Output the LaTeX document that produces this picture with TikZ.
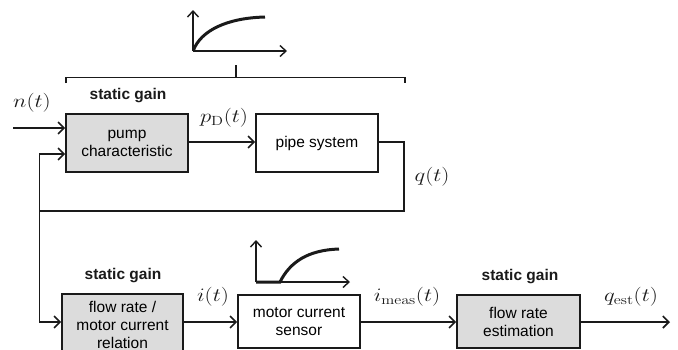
\documentclass[tikz,border=0pt]{standalone}
\usepackage{fix-cm}
\usepackage[no-math]{fontspec}
\setmainfont{Liberation Sans}
\usepackage{graphicx}
\usetikzlibrary{arrows.meta}
\definecolor{ink}{RGB}{26,26,26}
\definecolor{boxgray}{RGB}{220,220,220}
\newcommand\mth[1]{\scalebox{1.2}[1]{\fontsize{19}{22}\selectfont$#1$}}
\tikzset{
  blk/.style={draw=ink, line width=1.6pt, minimum width=122pt, minimum height=53pt, inner sep=0pt, align=center},
  grayblk/.style={blk, fill=boxgray},
  conn/.style={draw=ink, line width=1.6pt, -{Straight Barb[length=6pt,width=12pt,line width=1.6pt]}},
  wire/.style={draw=ink, line width=1.6pt},
  lbl/.style={inner sep=0pt, text=ink},
  gainlbl/.style={inner sep=0pt, text=ink, font=\fontsize{15.5}{18}\selectfont\bfseries},
  axis/.style={draw=ink, line width=1.4pt, -{Straight Barb[length=6pt,width=11pt,line width=1.4pt]}},
  curve/.style={draw=ink, line width=3pt},
}
\begin{document}
\begin{tikzpicture}[x=1pt, y=-1pt, font=\fontsize{15.5}{18}\selectfont]
\useasboundingbox (0,0) rectangle (678,349);
\clip (0,0) rectangle (678,349);
% blocks
\node[grayblk, minimum height=58pt] (pump) at (127,143) {pump\\characteristic};
\node[blk, minimum height=58pt] (pipe) at (317,143) {pipe system};
\node[grayblk, minimum width=121pt, minimum height=62pt] (flow) at (122.5,325) {flow rate /\\motor current\\relation};
\node[blk] (motor) at (299,321.5) {motor current\\sensor};
\node[grayblk, minimum width=123pt] (est) at (518.5,321.5) {flow rate\\estimation};
% labels
\node[gainlbl] (g1) at (128,96) {static gain};
\node[gainlbl] (g2) at (123,276) {static gain};
\node[gainlbl] (g3) at (520,277) {static gain};
\node[lbl] (ln) at (32,103) {\mth{n(t)}};
\node[lbl] (lp) at (224,118) {\mth{p_{\mathrm{D}}(t)}};
\node[lbl] (lq) at (432,177) {\mth{q(t)}};
\node[lbl] (li) at (213,297) {\mth{i(t)}};
\node[lbl] (lim) at (407,297) {\mth{i_{\mathrm{meas}}(t)}};
\node[lbl] (lqe) at (631,297) {\mth{q_{\mathrm{est}}(t)}};
% coordinates
\coordinate (nin) at (13,128);
\coordinate (qcorner) at (404,211);
\coordinate (fbleft) at (39.5,211);
\coordinate (fbtop) at (39.5,154);
\coordinate (fbbot) at (39.5,322);
\coordinate (qout) at (670,322);
% connectors
\draw[conn] (nin) -- (nin -| pump.west);
\draw[conn] (pump.east |- 0,142) -- (pipe.west |- 0,142);
\draw[wire] (pipe.east |- 0,142) -| (qcorner) -- (fbleft);
\draw[conn] (fbleft) |- (fbtop -| pump.west);
\draw[conn] (fbleft) |- (fbbot -| flow.west);
\draw[conn] (flow.east |- 0,322) -- (motor.west |- 0,322);
\draw[conn] (motor.east |- 0,322) -- (est.west |- 0,322);
\draw[conn] (est.east |- 0,322) -- (qout);
% brace
\draw[wire, line width=1.5pt] (66,83) -- (66,77.5) -- (405,77.5) -- (405,83);
\draw[wire, line width=2pt] (236,77.5) -- (236,65);
% top static graph
\draw[axis] (193,51) -- (193,10);
\draw[axis] (193,51) -- (287,51);
\draw[curve] (193.5,50) .. controls (201,31) and (226,18) .. (265,17);
% bottom dynamic graph
\draw[axis] (256,282) -- (256,240);
\draw[axis] (256,282) -- (350,282);
\draw[curve] (256,282) -- (280,282) .. controls (290,262) and (308,250) .. (339,249);
\end{tikzpicture}
\end{document}
